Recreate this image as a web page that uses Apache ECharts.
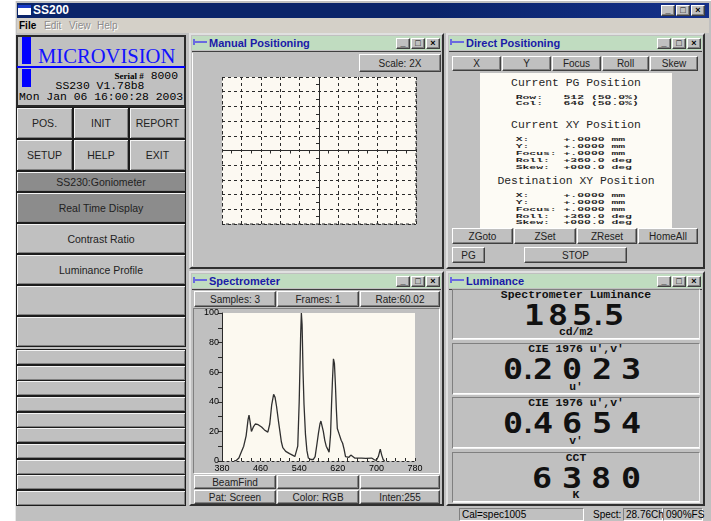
<!DOCTYPE html>
<html>
<head>
<meta charset="utf-8">
<title>SS200</title>
<script src="https://cdn.jsdelivr.net/npm/echarts@6/dist/echarts.min.js"></script>
<style>
  body { margin: 0; width: 711px; height: 521px; overflow: hidden; background: #fff; position: relative;
    font-family: "Liberation Sans", Arial, sans-serif; }
  .a { position: absolute; box-sizing: border-box; }
  .btn { background: #c0c0c0; border: 1px solid; border-color: #fff #404040 #404040 #fff;
    box-shadow: inset -1px -1px #808080; font-size: 10px; color: #222; display: flex;
    align-items: center; justify-content: center; white-space: nowrap; }
  .lb { background: #c0c0c0; border: 1px solid #1c1c1c; box-shadow: inset 1px 1px #f4f4f4, inset -1px -1px #808080;
    font-size: 10.5px; color: #222; display: flex; align-items: center; justify-content: center; white-space: nowrap; }
  .sunk { border: 1px solid; border-color: #808080 #fff #fff #808080; }
  .win { background: #c0c0c0; border: 2px solid; border-color: #e0e0e0 #303030 #303030 #e0e0e0; }
  .wtitle { background: #c0dcc0; font-weight: bold; font-size: 11px; color: #1a1aa8; line-height: 14px; padding-left: 17px; }
  .mono { font-family: "Liberation Mono", "Courier New", monospace; white-space: pre; }
  .seg { font-family: "DejaVu Sans Mono", monospace; font-weight: bold; font-size: 29px; line-height: 22px;
    height: 22px; width: 30px; text-align: center; color: #111; }
</style>
</head>
<body>
<script>
// spectrometer trace (wavelength nm, relative intensity %)
const wavelengths = [405, 410, 415, 420, 425, 430, 434, 436, 438, 441, 445, 449, 455, 462, 468, 475, 479,
  483, 487, 490, 493, 497, 500, 503, 506, 512, 520, 526, 531, 534, 537, 540, 543, 544.5, 546, 548, 550,
  553, 556, 559, 564, 569, 573, 577, 580, 583, 585, 587, 590, 593, 596, 599, 602, 605, 607, 609, 611,
  613, 615, 617, 619, 623, 627, 630, 633, 636, 639, 643, 647, 650, 655, 660, 669, 678, 690, 695, 700,
  704, 708, 711, 714, 717];
const intensity = [0, 0.5, 2, 6, 10, 17, 28, 31, 27, 20, 23, 25, 24.5, 23, 21, 19.5, 25,
  38, 45, 43, 37, 27, 20, 13, 9, 6.5, 5, 4, 3, 4, 10, 40, 85, 100, 92, 60, 38,
  18, 7, 2, 1, 1, 3, 12, 19, 25, 27, 26, 20, 14, 10, 8, 6, 18, 38, 55, 69,
  66, 52, 35, 22, 18, 14, 12, 8, 3, 2, 2.5, 4, 3, 2, 2, 2, 1.8, 2, 1, 0.5,
  3, 8, 4, 1, 0];

const menuItems = ['File', 'Edit', 'View', 'Help'];
const sideButtons = [['POS.', 'INIT', 'REPORT'], ['SETUP', 'HELP', 'EXIT']];
const sideList = ['Real Time Display', 'Contrast Ratio', 'Luminance Profile', '', ''];
const axisButtons = ['X', 'Y', 'Focus', 'Roll', 'Skew'];
const zButtons = ['ZGoto', 'ZSet', 'ZReset', 'HomeAll'];
const specTop = ['Samples: 3', 'Frames: 1', 'Rate:60.02'];
const specBottom = [['BeamFind', '', ''], ['Pat: Screen', 'Color: RGB', 'Inten:255']];
const lumLabels = ['Spectrometer Luminance', "CIE 1976 u',v'", "CIE 1976 u',v'", 'CCT'];
const lumValues = ['185.5', '0.2023', '0.4654', '6380'];
const lumUnits = ['cd/m2', "u'", "v'", 'K'];
const pgLines = ['Row:   512 (50.0%)', 'Col:   640 (50.0%)'];
const curLines = ['X:     +.0000 mm', 'Y:     +.0000 mm', 'Focus: +.0000 mm', 'Roll:  +360.0 deg', 'Skew:  +000.0 deg'];
const destLines = curLines.slice();

function box(x, y, w, h, cls, text, css, parent) {
  const d = document.createElement('div');
  d.className = 'a ' + (cls || '');
  d.style.left = x + 'px';
  d.style.top = y + 'px';
  if (w !== null) d.style.width = w + 'px';
  if (h !== null) d.style.height = h + 'px';
  if (text) d.textContent = text;
  if (css) Object.assign(d.style, css);
  (parent || document.body).appendChild(d);
  return d;
}

function ctrlButtons(right, y) {
  ['_', '□', '×'].forEach((t, i) => {
    box(right - 45 + i * 15, y, 14, 11, 'btn', t, { fontSize: '9px', fontWeight: 'bold', color: '#000', lineHeight: '9px' });
  });
}

function win(x, y, w, h, title) {
  box(x, y, w, h, 'win');
  box(x + 3, y + 3, w - 6, 14, 'wtitle', title);
  box(x + 5, y + 8, 13, 2, '', '', { background: '#6a6ae0' });
  box(x + 4, y + 6, 2, 6, '', '', { background: '#6a6ae0' });
  ctrlButtons(x + w - 3, y + 5);
  box(x + 3, y + 18, w - 6, 1, '', '', { background: '#404040' });
}

// main frame
box(15, 1, 696, 520, '', '', { background: '#c0c0c0', borderLeft: '1px solid #e8e8e8' });
box(17, 3, 692, 15, '', '', { background: 'linear-gradient(90deg, #0a246a, #0a246a 60%, #14308a)' });
box(18, 5, 13, 10, '', '', { background: '#fff', borderTop: '3px solid #1a3cc8' });
box(33, 3, 80, 15, '', 'SS200', { color: '#fff', fontWeight: 'bold', fontSize: '12px', lineHeight: '15px' });
ctrlButtons(706, 5);
box(17, 18, 692, 15, '', '', { background: '#d4d0c8' });
[19, 44, 69, 97].forEach((mx, i) => {
  const en = i === 0;
  box(mx, 19, 28, 13, '', menuItems[i], {
    fontSize: '10px', lineHeight: '13px', color: en ? '#000' : '#8c8c8c',
    textShadow: en ? 'none' : '1px 1px #fff', fontWeight: en ? 'bold' : 'normal'
  });
});

// left panel, logo block
box(16, 35, 170, 72, '', '', { background: '#c0c0c0', border: '2px solid #2a2a2a' });
box(22, 37, 9, 27, '', '', { background: '#0000ff' });
box(38, 45, 150, 22, '', 'MICROVISION', {
  fontFamily: '"Liberation Serif", "Times New Roman", serif', fontSize: '20.6px', color: '#1212ff', lineHeight: '22px'
});
box(17, 66, 168, 1.5, '', '', { background: '#0000ff' });
box(22, 69, 9, 18, '', '', { background: '#0000ff' });
const serial = box(100, 70, 78, 12, '', '', { textAlign: 'right', fontSize: '9px', lineHeight: '12px', whiteSpace: 'nowrap' });
serial.innerHTML = '<span style="font-family:Liberation Serif;font-weight:bold">Serial #</span>'
  + '<span class="mono" style="font-size:11.4px"> 8000</span>';
box(20, 81, 160, 11, 'mono', 'SS230 V1.78b8', { textAlign: 'center', fontSize: '11.4px', lineHeight: '11px' });
box(19, 91, 170, 12, 'mono', 'Mon Jan 06 16:00:28 2003', { fontSize: '11.4px', lineHeight: '12px' });

const colX = [16, 73, 129];
const colW = [57, 56, 57];
sideButtons.forEach((row, r) => {
  row.forEach((t, c) => box(colX[c], 107 + r * 32, colW[c], 32, 'lb', t));
});
box(16, 171, 170, 21, 'lb', 'SS230:Goniometer', { background: '#8c8c8c' });
sideList.forEach((t, i) => {
  box(16, 192 + i * 31, 170, 31, 'lb', t, i === 0 ? { background: '#8c8c8c' } : null);
});
for (let i = 0; i < 10; i++) {
  box(16, Math.round(349 + i * 15.65), 170, 16, 'lb');
}

// status bar
box(459, 508, 125, 13, 'sunk', 'Cal=spec1005', { fontSize: '10px', lineHeight: '11px', paddingLeft: '2px' });
box(593, 508, 30, 13, '', 'Spect:', { fontSize: '10px', lineHeight: '13px' });
box(623, 508, 40, 13, 'sunk', '28.76Ch', { fontSize: '10px', lineHeight: '11px', paddingLeft: '2px' });
box(663, 508, 40, 13, 'sunk', '090%FS', { fontSize: '10px', lineHeight: '11px', paddingLeft: '2px' });

// Manual Positioning
win(189, 33, 255, 236, 'Manual Positioning');
box(192, 53, 249, 213, '', '', { borderLeft: '1px solid #fff' });
box(359, 54, 82, 18, 'btn', 'Scale: 2X', { fontSize: '10px' });
box(222, 77, 195, 148, '', '', null).id = 'manual';

// Direct Positioning
win(446, 33, 259, 236, 'Direct Positioning');
const axX = [452, 502, 552, 602, 650];
const axW = [49, 49, 49, 47, 48];
axisButtons.forEach((t, i) => box(axX[i], 56, axW[i], 15, 'btn', t));
const panel = box(480, 73, 192, 155, '', '', { background: '#fdfbf5', overflow: 'hidden' });
// squeezed readout lines, as in the original window
function line(y, text, center, squeeze) {
  const h = squeeze ? 6.4 : 11;
  box(center ? 0 : 35.7, y - 73 - h / 2, center ? 192 : 160, h, 'mono', text, {
    fontSize: '11.4px', lineHeight: h + 'px', color: '#262626', textAlign: center ? 'center' : 'left',
    transform: squeeze ? 'scaleY(0.5)' : 'none', fontWeight: squeeze ? 'bold' : 'normal'
  }, panel);
}
line(83.3, 'Current PG Position', true);
pgLines.forEach((t, i) => line(96.7 + i * 6.7, t, false, true));
line(125, 'Current XY Position', true);
curLines.forEach((t, i) => line(139.3 + i * 6.9, t, false, true));
line(181.7, 'Destination XY Position', true);
destLines.forEach((t, i) => line(195 + i * 6.9, t, false, true));
const zX = [452, 514, 577, 638];
const zW = [61, 62, 60, 60];
zButtons.forEach((t, i) => box(zX[i], 228, zW[i], 16, 'btn', t));
box(452, 247, 33, 16, 'btn', 'PG');
box(524, 247, 103, 16, 'btn', 'STOP');

// Spectrometer
win(189, 271, 255, 235, 'Spectrometer');
const sX = [194, 277, 360];
const sW = [82, 82, 80];
specTop.forEach((t, i) => box(sX[i], 291, sW[i], 16, 'btn', t));
box(193, 308, 247, 166, 'sunk');
box(194, 308, 246, 166, '', '', null).id = 'spectrum';
specBottom.forEach((row, r) => {
  row.forEach((t, i) => box(sX[i], 475 + r * 15, sW[i], 14, 'btn', t));
});

// Luminance
win(446, 271, 259, 235, 'Luminance');
const lumPanels = [[289, 51], [343, 52], [397, 52], [452, 51]];
const lumText = [[295, 332.5], [349, 387.5], [403.3, 441], [458, 495]];
const numY = [314, 368, 422.5, 477.5];
const numLayout = [[533.5, 24.3, 8], [513.3, 29.5, 0], [513.3, 29.5, 0], [542.3, 29.5, 0]];
lumPanels.forEach((p, i) => {
  box(452, p[0], 248, p[1], '', '', {
    border: '1px solid', borderColor: '#808080 #f0f0f0 #f0f0f0 #808080', boxShadow: 'inset 0 -1px #fff'
  });
  const st = { fontSize: '11.4px', fontWeight: 'bold', lineHeight: '9px', textAlign: 'center', color: '#111' };
  box(452, lumText[i][0] - 4.5, 248, 9, 'mono', lumLabels[i], st);
  box(452, lumText[i][1] - 4.5, 248, 9, 'mono', lumUnits[i], st);
  let cx = numLayout[i][0];
  const pitch = numLayout[i][1];
  const dot = numLayout[i][2];
  lumValues[i].split('').forEach((ch) => {
    if (ch === '.') {
      box(cx - pitch / 2 + dot / 2 - 15, numY[i] - 10.5, null, null, 'seg', '.', { fontFamily: '"Liberation Sans", sans-serif' });
      cx += dot;
    } else {
      box(cx - 15, numY[i] - 10.5, null, null, 'seg', ch, { transform: 'scaleX(1.15)' });
      cx += pitch;
    }
  });
});

// charts
const manual = echarts.init(document.getElementById('manual'));
const gridAxis = {
  type: 'value', min: -5, max: 5, interval: 1,
  axisLine: { onZero: true, lineStyle: { color: '#2a2a2a', width: 1 } },
  axisTick: { show: false },
  minorTick: { show: true, splitNumber: 2, length: 3, lineStyle: { color: '#2a2a2a' } },
  axisLabel: { show: false },
  splitLine: { show: true, lineStyle: { color: '#2a2a2a', type: [3, 3], width: 1 } }
};
manual.setOption({
  animation: false,
  grid: {
    left: 0, right: 1, top: 0, bottom: 1, show: true, backgroundColor: '#fcf9f2',
    borderWidth: 1, borderColor: '#2a2a2a', borderType: [3, 3]
  },
  xAxis: gridAxis,
  yAxis: gridAxis,
  series: []
});

const spectrum = echarts.init(document.getElementById('spectrum'));
spectrum.setOption({
  animation: false,
  grid: { left: 28, right: 25, top: 5, bottom: 13, show: true, backgroundColor: '#fcf9f0', borderWidth: 0 },
  xAxis: {
    type: 'value', min: 380, max: 780, interval: 80,
    axisLine: { onZero: false, lineStyle: { color: '#2a2a2a', type: [2, 3] } },
    axisTick: { inside: true, length: 3, lineStyle: { color: '#2a2a2a' } },
    minorTick: { show: true, splitNumber: 4, length: 3, lineStyle: { color: '#2a2a2a' } },
    axisLabel: { color: '#000', fontSize: 9, margin: 3, fontFamily: 'Liberation Sans' },
    splitLine: { show: false }
  },
  yAxis: {
    type: 'value', min: 0, max: 100, interval: 20,
    axisLine: { show: true, lineStyle: { color: '#2a2a2a' } },
    axisTick: { show: true, length: 4, lineStyle: { color: '#2a2a2a' } },
    minorTick: { show: true, splitNumber: 2, length: 4, lineStyle: { color: '#2a2a2a' } },
    axisLabel: { color: '#000', fontSize: 9, margin: 3, fontFamily: 'Liberation Sans' },
    splitLine: { show: false }
  },
  series: [{
    type: 'line',
    showSymbol: false,
    data: wavelengths.map((w, i) => [w, intensity[i]]),
    lineStyle: { color: '#303030', width: 1.3 }
  }]
});
</script>
</body>
</html>
